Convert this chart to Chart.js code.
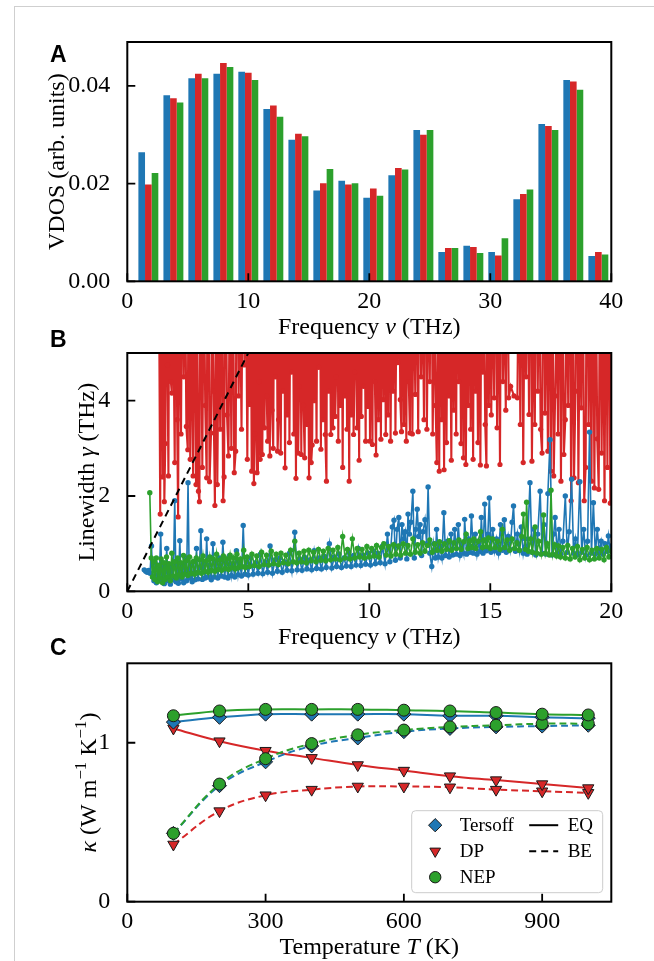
<!DOCTYPE html>
<html>
<head>
<meta charset="utf-8">
<script src="https://cdn.jsdelivr.net/npm/chart.js@4.4.1/dist/chart.umd.min.js"></script>
<style>
  html, body { margin: 0; padding: 0; background: #fff; }
  #page { position: relative; width: 654px; height: 961px; overflow: hidden; background: #fff; }
  #frame { position: absolute; left: 14px; top: 6px; right: -4px; bottom: -4px;
           border-left: 1px solid #cfcfcf; border-top: 1px solid #cfcfcf; }
  canvas { position: absolute; left: 0; top: 0; }
</style>
</head>
<body>
<div id="page">
  <div id="frame"></div>
  <canvas id="chartA" width="654" height="961"></canvas>
  <canvas id="chartB" width="654" height="961"></canvas>
  <canvas id="chartC" width="654" height="961"></canvas>
</div>
<script>
// ---------- Panel A: vibrational density of states (bin centres in THz) ----------
const vdosFreq = [1.74, 3.81, 5.87, 7.94, 10.00, 12.07, 14.14, 16.20, 18.27, 20.33,
                  22.40, 24.47, 26.53, 28.60, 30.66, 32.73, 34.80, 36.86, 38.93];
const vdosTersoff = [0.0264, 0.0381, 0.0416, 0.0425, 0.0429, 0.0353, 0.0290, 0.0186, 0.0206, 0.0171,
                     0.0217, 0.0310, 0.0060, 0.0073, 0.0060, 0.0168, 0.0322, 0.0412, 0.0052];
const vdosDP      = [0.0198, 0.0375, 0.0425, 0.0447, 0.0427, 0.0360, 0.0302, 0.0201, 0.0198, 0.0190,
                     0.0232, 0.0300, 0.0068, 0.0070, 0.0053, 0.0179, 0.0318, 0.0409, 0.0060];
const vdosNEP     = [0.0222, 0.0366, 0.0416, 0.0439, 0.0412, 0.0337, 0.0297, 0.0230, 0.0201, 0.0175,
                     0.0229, 0.0310, 0.0068, 0.0058, 0.0088, 0.0188, 0.0310, 0.0392, 0.0055];

// ---------- Panel B: phonon linewidths [frequency THz, linewidth THz] ----------
const dpLinewidth = [
  [1.30,7.5],[1.36,1.62],[1.40,9.0],[1.46,2.40],[1.50,8.0],[1.53,1.88],[1.57,3.10],[1.60,6.5],[1.66,4.75],[1.70,2.42],
  [1.74,8.5],[1.80,4.40],[1.84,4.16],[1.88,7.0],[1.96,2.70],[2.00,9.5],[2.06,3.60],[2.10,1.56],[2.14,6.8],[2.22,3.30],
  [2.27,8.2],[2.33,4.50],[2.38,7.4],[2.44,3.46],[2.50,2.97],[2.54,8.8],[2.60,2.77],[2.66,6.2],[2.72,2.42],[2.78,7.6],
  [2.84,2.24],[2.88,5.8],[2.94,2.10],[2.98,1.88],[3.02,8.4],[3.10,2.60],[3.16,7.1],[3.22,3.90],[3.28,2.38],[3.33,9.2],
  [3.40,2.30],[3.46,3.32],[3.50,6.6],[3.56,4.20],[3.62,1.80],[3.67,8.0],[3.72,2.24],[3.78,5.9],[3.84,3.40],[3.90,7.7],
  [3.96,1.90],[4.00,2.40],[4.05,8.6],[4.12,3.70],[4.18,2.84],[4.24,6.9],[4.30,3.00],[4.36,7.8],[4.42,2.49],[4.48,2.94],
  [4.53,9.1],[4.60,4.10],[4.66,6.3],[4.72,3.40],[4.78,8.3],[4.84,4.75],[4.90,7.2],[4.96,2.77],
  [5.00,6.1],[5.05,3.92],[5.09,8.9],[5.14,2.52],[5.18,7.3],[5.23,2.26],[5.27,3.30],[5.31,6.7],[5.36,2.49],[5.40,9.4],
  [5.45,4.40],[5.49,2.77],[5.53,7.9],[5.58,2.87],[5.62,6.4],[5.67,3.43],[5.71,8.1],[5.76,4.10],[5.80,3.15],[5.85,7.0],
  [5.89,2.84],[5.94,9.6],[5.98,3.80],[6.03,3.00],[6.07,6.9],[6.12,4.50],[6.16,8.4],[6.21,2.94],[6.25,3.60],[6.29,7.5],
  [6.34,2.90],[6.38,6.2],[6.43,4.20],[6.47,8.7],[6.52,2.59],[6.56,7.1],[6.61,3.70],[6.65,9.0],[6.70,3.12],[6.74,6.6],
  [6.79,4.60],[6.83,8.0],[6.88,3.30],[6.92,7.4],[6.97,2.37],[7.01,9.3],[7.06,2.90],[7.10,4.30],[7.15,6.8],[7.19,2.87],
  [7.24,8.5],[7.28,3.90],[7.33,2.80],[7.37,7.2],[7.42,3.50],[7.46,6.1],[7.51,2.38],[7.55,8.8],[7.60,2.70],[7.64,3.07],
  [7.69,7.7],[7.73,4.00],[7.78,6.4],[7.82,3.15],[7.87,9.2],[7.91,4.70],[7.96,7.0],[8.00,2.98],[8.05,8.3],[8.09,3.60],
  [8.14,6.7],[8.18,3.29],[8.23,2.31],[8.27,9.5],[8.32,4.20],[8.36,7.6],[8.41,3.29],[8.45,6.3],[8.50,3.43],[8.54,8.1],
  [8.59,3.67],[8.63,4.50],[8.68,7.3],[8.72,3.15],[8.77,9.0],[8.81,3.90],[8.86,6.5],[8.90,2.60],[8.95,8.6],[8.99,4.10],
  [9.04,7.1],[9.08,3.40],[9.13,6.0],[9.17,2.31],[9.22,8.9],[9.26,3.70],[9.31,7.4],[9.35,3.29],[9.40,4.60],[9.44,9.3],
  [9.49,3.43],[9.53,6.8],[9.58,2.75],[9.62,8.2],[9.67,3.67],[9.71,7.0],[9.76,4.30],[9.80,6.2],[9.85,3.15],[9.89,8.7],
  [9.94,3.88],[9.98,7.5],
  [10.03,3.15],[10.08,6.9],[10.13,3.08],[10.18,9.1],[10.23,4.40],[10.28,2.86],[10.33,7.8],[10.38,3.60],[10.43,6.4],[10.48,3.19],
  [10.53,8.5],[10.58,4.02],[10.63,7.2],[10.68,3.29],[10.73,5.9],[10.78,3.70],[10.83,9.4],[10.88,3.15],[10.93,7.0],[10.98,4.20],
  [11.03,8.3],[11.08,3.32],[11.13,6.6],[11.18,4.80],[11.23,7.7],[11.28,4.02],[11.33,3.35],[11.38,8.9],[11.43,3.50],[11.48,6.3],
  [11.53,3.15],[11.58,7.9],[11.63,4.40],[11.68,3.32],[11.73,9.2],[11.78,3.30],[11.83,6.8],[11.90,4.13],[11.96,7.4],[12.02,3.35],
  [12.08,8.1],[12.14,4.50],[12.20,6.5],[12.26,3.60],[12.32,9.0],[12.38,3.40],[12.44,7.1],[12.50,4.40],[12.56,8.6],[12.62,3.30],
  [12.68,6.2],[12.74,3.90],[12.79,2.70],[12.84,7.6],[12.89,2.52],[12.94,9.3],[12.99,3.60],[13.04,6.9],[13.09,2.55],[13.14,8.2],
  [13.19,3.12],[13.24,7.3],[13.29,4.10],[13.34,6.0],[13.39,2.75],[13.44,8.8],[13.49,3.80],[13.54,7.0],[13.59,3.30],[13.64,9.1],
  [13.69,4.40],[13.74,6.5],[13.79,3.10],[13.84,8.4],[13.89,2.80],[13.94,7.5],[13.99,2.66],[14.04,6.3],[14.09,3.90],[14.14,8.7],
  [14.19,3.40],[14.24,7.2],[14.29,2.77],[14.34,9.5],[14.39,4.20],[14.44,6.7],[14.49,3.12],[14.54,8.0],[14.59,2.65],[14.64,7.6],
  [14.69,4.60],[14.74,6.1],[14.79,3.50],[14.84,2.63],[14.89,8.9],[14.94,3.90],[14.99,7.4],
  [15.04,3.70],[15.10,6.8],[15.16,4.06],[15.22,8.3],[15.28,3.43],[15.34,7.0],[15.40,2.66],[15.46,9.2],[15.52,4.40],[15.58,6.4],
  [15.64,3.80],[15.70,8.1],[15.76,4.06],[15.84,4.30],[15.98,4.10],[16.12,4.06],[16.18,7.5],[16.24,3.50],[16.30,8.9],[16.36,2.70],
  [16.42,6.6],[16.48,4.50],[16.54,7.8],[16.60,3.71],[16.66,9.4],[16.72,2.73],[16.78,6.2],[16.84,3.50],[16.90,8.5],[16.96,4.20],
  [17.02,7.1],[17.08,3.40],[17.14,2.90],[17.20,9.0],[17.26,3.74],[17.32,6.9],[17.38,2.94],[17.44,8.2],[17.50,2.52],[17.56,7.3],
  [17.62,2.42],[17.68,4.10],[17.74,6.0],[17.80,3.30],[17.86,8.8],[17.92,2.31],[17.98,7.7],[18.04,2.87],[18.10,3.60],[18.16,6.5],
  [18.22,3.90],[18.28,9.3],[18.34,1.90],[18.40,7.2],[18.46,2.38],[18.52,4.20],[18.58,8.4],[18.64,2.28],[18.70,6.3],[18.76,3.85],
  [18.82,7.9],[18.88,1.90],[18.94,2.60],[19.00,9.1],[19.06,3.50],[19.12,6.7],[19.18,2.31],[19.24,8.6],[19.30,2.17],[19.36,7.0],
  [19.42,3.20],[19.48,2.14],[19.54,8.0],[19.60,2.90],[19.66,6.4],[19.72,1.90],[19.78,7.6],[19.84,2.60],[19.90,8.8],[19.96,1.85],
  [20.00,6.0]
];

const tersoffLinewidth = [
  [0.70,0.45],[0.76,0.42],[0.82,0.40],[0.88,0.44],[0.94,0.38],[1.00,0.95],[1.05,0.30],[1.10,0.22],[1.15,0.60],[1.20,0.18],
  [1.26,0.45],[1.32,0.25],[1.38,1.20],[1.43,0.20],[1.48,0.52],[1.53,0.16],[1.58,0.40],[1.63,0.90],[1.68,0.22],[1.73,0.48],
  [1.78,0.15],[1.84,0.55],[1.90,0.24],[1.96,1.90],[2.01,0.20],[2.06,0.60],[2.11,0.17],[2.17,1.06],[2.22,0.26],[2.28,0.50],
  [2.33,0.18],[2.39,0.70],[2.45,0.22],[2.51,2.28],[2.56,0.28],[2.62,0.55],[2.68,0.20],[2.74,0.62],[2.80,0.24],[2.86,0.90],
  [2.92,0.26],[2.98,0.50],[3.04,1.27],[3.10,0.25],[3.16,0.58],[3.22,0.28],[3.28,1.10],[3.34,0.30],[3.40,0.55],[3.47,0.24],
  [3.54,1.00],[3.60,0.30],[3.67,0.62],[3.74,0.28],[3.81,0.70],[3.88,0.32],[3.95,1.03],[4.02,0.30],[4.09,0.60],[4.16,0.28],
  [4.23,0.75],[4.30,0.33],[4.37,0.58],[4.44,0.30],[4.51,0.85],[4.58,0.35],[4.65,0.60],[4.72,0.32],[4.79,1.38],[4.86,0.36],
  [4.93,0.62],[5.00,0.34],
  [5.10,0.70],[5.20,0.36],[5.30,0.60],[5.40,0.38],[5.50,0.78],[5.60,0.37],[5.70,0.62],[5.80,0.40],[5.90,0.95],[6.00,0.38],
  [6.10,0.66],[6.20,0.42],[6.30,0.70],[6.40,0.40],[6.50,0.62],[6.60,0.44],[6.70,0.80],[6.80,0.43],[6.92,1.24],[7.02,0.45],
  [7.12,0.68],[7.22,0.44],[7.32,0.72],[7.42,0.47],[7.52,0.66],[7.62,0.45],[7.72,0.85],[7.82,0.48],[7.92,0.70],[8.02,0.47],
  [8.12,0.74],[8.22,0.50],[8.35,1.00],[8.45,0.49],[8.55,0.72],[8.65,0.52],[8.75,0.78],[8.85,0.50],[8.95,0.70],[9.05,0.53],
  [9.15,0.82],[9.25,0.52],[9.35,0.75],[9.45,0.55],[9.55,0.90],[9.65,0.54],[9.75,0.76],[9.85,0.57],[9.95,0.80],
  [10.05,0.55],[10.15,0.85],[10.25,0.58],[10.35,0.80],[10.45,0.60],[10.55,0.95],[10.65,0.58],[10.75,1.20],[10.85,0.62],[10.95,1.35],
  [11.02,1.49],[11.08,0.65],[11.15,1.30],[11.22,1.55],[11.28,0.70],[11.35,1.40],[11.42,1.10],[11.48,1.25],[11.55,0.68],[11.60,1.62],
  [11.66,1.20],[11.72,1.45],[11.80,2.10],[11.86,0.70],[11.92,1.30],[11.98,1.72],[12.04,1.15],[12.10,1.40],[12.16,0.75],[12.22,1.25],
  [12.30,1.50],[12.37,1.00],[12.43,2.19],[12.50,0.80],[12.58,0.52],[12.66,1.00],[12.73,0.70],[12.78,1.30],[12.85,0.72],[12.92,0.95],
  [13.00,0.70],[13.08,1.65],[13.15,0.75],[13.23,1.05],[13.30,0.72],[13.38,1.20],[13.45,0.76],[13.53,1.30],[13.60,0.78],[13.68,1.40],
  [13.75,0.75],[13.83,1.00],[13.90,0.80],[13.94,1.51],[14.02,0.78],[14.10,1.10],[14.16,0.82],[14.22,1.58],[14.30,0.80],[14.38,1.20],
  [14.45,0.78],[14.52,1.05],[14.58,0.84],[14.63,1.55],[14.70,0.80],[14.77,1.83],[14.84,0.85],[14.90,1.20],[14.96,1.96],[15.03,0.82],
  [15.10,1.30],[15.18,0.85],[15.26,1.10],[15.34,0.80],[15.42,1.40],[15.50,0.86],[15.58,1.50],[15.66,0.82],[15.74,1.15],[15.82,0.88],
  [15.90,1.45],[15.96,1.79],[16.04,0.84],[16.12,1.20],[16.20,0.86],[16.28,1.35],[16.36,0.80],[16.44,1.10],[16.52,0.78],[16.64,2.28],
  [16.72,0.82],[16.80,1.30],[16.88,0.76],[16.96,1.20],[17.06,2.10],[17.14,0.80],[17.22,1.40],[17.30,0.78],[17.38,2.05],[17.47,3.18],
  [17.55,0.76],[17.62,1.20],[17.68,1.55],[17.76,0.80],[17.84,1.30],[17.92,0.78],[18.00,1.05],[18.10,2.00],[18.18,0.82],[18.26,1.25],
  [18.36,2.35],[18.44,0.80],[18.52,1.10],[18.60,0.76],[18.70,2.30],[18.78,0.82],[18.86,1.30],[18.94,0.75],[19.02,1.05],[19.10,3.34],
  [19.18,0.80],[19.26,1.86],[19.34,0.78],[19.42,1.30],[19.50,0.82],[19.58,1.05],[19.66,0.78],[19.74,1.00],[19.82,0.84],[19.88,1.16],
  [19.95,0.86],[20.00,0.95]
];

const nepLinewidth = [
  [0.93,2.07],[0.99,0.70],[1.04,0.30],[1.09,0.62],[1.14,0.25],[1.20,0.70],[1.25,0.20],[1.30,0.55],[1.35,0.28],[1.40,0.68],
  [1.46,0.18],[1.51,0.60],[1.56,0.25],[1.62,0.72],[1.67,0.30],[1.72,0.58],[1.78,0.22],[1.84,0.80],[1.90,0.32],[1.96,0.62],
  [2.02,0.28],[2.08,0.70],[2.14,0.35],[2.20,0.60],[2.26,0.30],[2.32,0.75],[2.38,0.36],[2.44,0.64],[2.50,0.33],[2.57,0.72],
  [2.64,0.38],[2.71,0.62],[2.78,0.36],[2.85,0.70],[2.92,0.40],[2.99,0.66],[3.06,0.38],[3.13,0.74],[3.20,0.42],[3.27,0.64],
  [3.34,0.40],[3.41,0.72],[3.48,0.44],[3.55,0.68],[3.62,0.42],[3.69,0.78],[3.76,0.46],[3.83,0.66],[3.90,0.44],[3.97,0.74],
  [4.04,0.48],[4.11,0.68],[4.18,0.46],[4.25,0.76],[4.32,0.50],[4.39,0.70],[4.46,0.47],[4.53,0.78],[4.60,0.50],[4.67,0.68],
  [4.74,0.52],[4.81,0.86],[4.88,0.50],[4.95,0.72],
  [5.05,0.52],[5.15,0.78],[5.25,0.54],[5.35,0.74],[5.45,0.52],[5.55,0.82],[5.65,0.56],[5.75,0.76],[5.85,0.55],[5.95,0.84],
  [6.05,0.58],[6.15,0.78],[6.25,0.56],[6.35,0.80],[6.45,0.60],[6.55,0.76],[6.65,0.58],[6.75,0.86],[6.85,0.62],[6.92,1.05],
  [7.00,0.60],[7.10,0.80],[7.20,0.62],[7.30,0.84],[7.40,0.60],[7.50,0.86],[7.60,0.64],[7.70,0.82],[7.80,0.62],[7.90,0.88],
  [8.00,0.65],[8.10,0.84],[8.20,0.64],[8.30,0.90],[8.40,0.66],[8.50,0.86],[8.60,0.68],[8.70,0.92],[8.80,0.66],[8.90,1.15],
  [9.00,0.70],[9.10,0.88],[9.20,0.68],[9.30,1.10],[9.40,0.70],[9.50,0.90],[9.60,0.72],[9.70,0.88],[9.80,0.70],[9.90,0.94],
  [10.00,0.72],[10.10,0.90],[10.20,0.74],[10.30,0.96],[10.40,0.72],[10.50,0.92],[10.60,1.00],[10.70,0.76],[10.80,0.94],[10.90,0.74],
  [11.00,0.98],[11.10,0.78],[11.20,0.95],[11.30,0.76],[11.40,1.00],[11.50,0.80],[11.60,0.96],[11.70,0.78],[11.80,1.10],[11.90,0.82],
  [12.00,0.98],[12.10,0.80],[12.20,1.02],[12.30,0.84],[12.40,0.96],[12.50,1.08],[12.60,0.82],[12.70,1.00],[12.80,0.86],[12.90,1.04],
  [13.00,0.84],[13.10,1.00],[13.20,0.88],[13.30,1.06],[13.40,0.86],[13.50,1.02],[13.60,0.90],[13.70,1.08],[13.80,0.88],[13.90,1.04],
  [14.00,1.20],[14.08,0.90],[14.16,1.06],[14.24,0.92],[14.32,1.10],[14.40,0.90],[14.50,1.05],[14.60,1.25],[14.68,0.92],[14.76,1.08],
  [14.84,0.94],[14.92,1.12],[15.00,0.90],
  [15.10,1.10],[15.20,0.92],[15.30,1.05],[15.40,0.88],[15.50,1.30],[15.60,0.92],[15.70,1.08],[15.80,0.86],[15.90,1.10],[16.00,0.90],
  [16.10,1.02],[16.20,0.86],[16.30,1.15],[16.37,1.62],[16.45,0.88],[16.50,1.87],[16.58,0.84],[16.66,1.10],[16.74,0.82],[16.85,1.35],
  [16.92,0.80],[17.00,1.05],[17.10,0.78],[17.20,1.60],[17.28,0.80],[17.36,1.00],[17.44,0.76],[17.51,2.12],[17.58,0.78],[17.66,0.98],
  [17.74,0.74],[17.82,0.95],[17.90,0.72],[18.00,0.92],[18.10,0.70],[18.20,0.96],[18.30,0.68],[18.40,0.90],[18.50,0.72],[18.60,0.94],
  [18.70,0.66],[18.80,0.88],[18.90,0.70],[19.00,0.92],[19.10,0.66],[19.20,0.86],[19.30,0.68],[19.40,0.90],[19.50,0.70],[19.60,0.88],
  [19.70,0.66],[19.80,0.92],[19.90,0.72],[20.00,0.85]
];

// guide line gamma = nu
const guideLine = [[0, 0], [5, 5]];

// ---------- Panel C: thermal conductivity vs temperature ----------
const temperature = [100, 200, 300, 400, 500, 600, 700, 800, 900, 1000];
const tersoffEQ = [1.13, 1.16, 1.18, 1.18, 1.18, 1.18, 1.17, 1.17, 1.16, 1.155];
const tersoffBE = [0.43, 0.73, 0.88, 0.98, 1.03, 1.07, 1.09, 1.10, 1.105, 1.11];
const dpEQ      = [1.09, 1.01, 0.95, 0.905, 0.86, 0.825, 0.79, 0.765, 0.74, 0.715];
const dpBE      = [0.36, 0.57, 0.67, 0.705, 0.725, 0.725, 0.72, 0.705, 0.695, 0.685];
const nepEQ     = [1.17, 1.20, 1.21, 1.21, 1.21, 1.205, 1.20, 1.19, 1.18, 1.175];
const nepBE     = [0.43, 0.74, 0.90, 0.995, 1.05, 1.08, 1.10, 1.11, 1.12, 1.12];

// ---------- styling ----------
const SERIF = "'Liberation Serif', 'Times New Roman', serif";
const SANS = "'Liberation Sans', Arial, sans-serif";
const BLUE = '#1f77b4', RED = '#d62728', GREEN = '#2ca02c';
const FS = 24;
Chart.defaults.font.family = SERIF;
Chart.defaults.color = '#000';

// draws a label made of plain / italic / superscript pieces, centred on (cx, cy)
function drawRich(ctx, parts, cx, cy, size, vertical) {
  ctx.save();
  ctx.translate(cx, cy);
  if (vertical) ctx.rotate(-Math.PI / 2);
  let total = 0;
  const items = parts.map(p => {
    const fs = p.sup ? size * 0.7 : size;
    const font = (p.italic ? 'italic ' : '') + fs + 'px ' + SERIF;
    ctx.font = font;
    const w = ctx.measureText(p.text).width;
    total += w;
    return { p, font, w };
  });
  let x = -total / 2;
  const base = size * 0.24;
  ctx.fillStyle = '#000';
  ctx.textAlign = 'left';
  ctx.textBaseline = 'alphabetic';
  for (const it of items) {
    ctx.font = it.font;
    ctx.fillText(it.p.text, x, it.p.sup ? base - size * 0.42 : base);
    x += it.w;
  }
  ctx.restore();
}

function panelDecor(cfg) {
  return {
    id: 'panelDecor' + cfg.letter,
    afterDatasetsDraw(chart) {
      const { ctx, chartArea: a, scales } = chart;
      ctx.save();
      ctx.strokeStyle = '#000';
      ctx.lineWidth = 1.8;
      ctx.beginPath();
      for (const t of scales.x.ticks) {
        const px = scales.x.getPixelForValue(t.value);
        ctx.moveTo(px, a.bottom); ctx.lineTo(px, a.bottom - 8);
      }
      for (const t of scales.y.ticks) {
        const py = scales.y.getPixelForValue(t.value);
        ctx.moveTo(a.left, py); ctx.lineTo(a.left + 8, py);
      }
      ctx.stroke();
      ctx.lineWidth = 2;
      ctx.strokeRect(a.left, a.top, a.right - a.left, a.bottom - a.top);
      ctx.restore();
    },
    afterDraw(chart) {
      const { ctx, chartArea: a } = chart;
      drawRich(ctx, cfg.xTitle, (a.left + a.right) / 2, a.bottom + 47, FS, false);
      drawRich(ctx, cfg.yTitle, cfg.yTitleX, (a.top + a.bottom) / 2, FS, true);
      ctx.save();
      ctx.font = 'bold 23px ' + SANS;
      ctx.fillStyle = '#000';
      ctx.textAlign = 'left';
      ctx.textBaseline = 'alphabetic';
      ctx.fillText(cfg.letter, 50, cfg.letterY);
      ctx.restore();
      if (cfg.extra) cfg.extra(chart);
    }
  };
}

function tickFont() { return { family: SERIF, size: FS }; }

function xAxis(min, max, step) {
  return {
    type: 'linear', min, max, offset: false,
    grid: { display: false }, border: { display: false },
    ticks: { stepSize: step, includeBounds: false, color: '#000', font: tickFont(),
             padding: -2, maxRotation: 0, autoSkip: false },
    afterFit(scale) { scale.height = 60; }
  };
}
function yAxis(min, max, step, fmt) {
  return {
    type: 'linear', min, max,
    grid: { display: false }, border: { display: false },
    ticks: { stepSize: step, includeBounds: false, color: '#000', font: tickFont(),
             padding: 9, callback: fmt },
    afterFit(scale) { scale.width = 127.3; }
  };
}

const common = {
  responsive: false, animation: false, events: [], devicePixelRatio: 1,
  plugins: { legend: { display: false }, tooltip: { enabled: false } }
};

function pad(top, bottom) {
  return { padding: { left: 0, right: 654 - 611.3, top: top, bottom: 961 - bottom - 60 } };
}

// ---------- Panel A ----------
const barStyle = { categoryPercentage: 0.8, barPercentage: 1.0, borderWidth: 0 };
new Chart(document.getElementById('chartA'), {
  type: 'bar',
  data: {
    datasets: [
      Object.assign({ label: 'Tersoff', backgroundColor: BLUE,
        data: vdosFreq.map((f, i) => ({ x: f, y: vdosTersoff[i] })) }, barStyle),
      Object.assign({ label: 'DP', backgroundColor: RED,
        data: vdosFreq.map((f, i) => ({ x: f, y: vdosDP[i] })) }, barStyle),
      Object.assign({ label: 'NEP', backgroundColor: GREEN,
        data: vdosFreq.map((f, i) => ({ x: f, y: vdosNEP[i] })) }, barStyle)
    ]
  },
  options: Object.assign({}, common, {
    layout: pad(42, 281.3),
    scales: {
      x: xAxis(0, 40, 10),
      y: yAxis(0, 0.049, 0.02, v => Number(v).toFixed(2))
    }
  }),
  plugins: [panelDecor({
    letter: 'A', letterY: 62, yTitleX: 58,
    xTitle: [{ text: 'Frequency ' }, { text: 'ν', italic: true }, { text: ' (THz)' }],
    yTitle: [{ text: 'VDOS (arb. units)' }]
  })]
});

// ---------- Panel B ----------
function lwSet(label, pts, color, lineW, radius) {
  return {
    label, data: pts.map(p => ({ x: p[0], y: p[1] })),
    showLine: true, borderColor: color, backgroundColor: color,
    borderWidth: lineW, pointRadius: radius, pointBorderWidth: 0,
    pointBackgroundColor: color
  };
}
new Chart(document.getElementById('chartB'), {
  type: 'scatter',
  data: {
    datasets: [
      { label: 'guide', data: guideLine.map(p => ({ x: p[0], y: p[1] })), showLine: true,
        borderColor: '#000', borderWidth: 2, borderDash: [7, 5], pointRadius: 0 },
      lwSet('NEP', nepLinewidth, GREEN, 1.6, 2.7),
      lwSet('Tersoff', tersoffLinewidth, BLUE, 1.6, 2.7),
      lwSet('DP', dpLinewidth, RED, 2.1, 2.6)
    ]
  },
  options: Object.assign({}, common, {
    layout: pad(353, 591.3),
    scales: {
      x: xAxis(0, 20, 5),
      y: yAxis(0, 5, 2)
    }
  }),
  plugins: [panelDecor({
    letter: 'B', letterY: 347, yTitleX: 88,
    xTitle: [{ text: 'Frequency ' }, { text: 'ν', italic: true }, { text: ' (THz)' }],
    yTitle: [{ text: 'Linewidth ' }, { text: 'γ', italic: true }, { text: ' (THz)' }]
  })]
});

// ---------- Panel C ----------
const markerInfo = {
  Tersoff: { style: 'rectRot', radius: 7, rotation: 0, color: BLUE },
  DP: { style: 'triangle', radius: 6.5, rotation: 180, color: RED },
  NEP: { style: 'circle', radius: 6, rotation: 0, color: GREEN }
};
function kSet(model, values, dashed) {
  const m = markerInfo[model];
  return {
    label: model + (dashed ? ' BE' : ' EQ'),
    data: temperature.map((t, i) => ({ x: t, y: values[i] })),
    showLine: true, tension: 0.4,
    borderColor: m.color, borderWidth: 2, borderDash: dashed ? [7, 4] : [],
    pointStyle: m.style, pointRadius: m.radius, pointRotation: m.rotation,
    pointBackgroundColor: m.color, pointBorderColor: '#1a1a1a', pointBorderWidth: 1
  };
}
function drawKappaLegend(chart) {
  const { ctx, chartArea: a } = chart;
  const w = 191, h = 82;
  const x0 = a.right - 8.6 - w, y0 = a.bottom - 9 - h;
  ctx.save();
  ctx.beginPath();
  ctx.roundRect(x0, y0, w, h, 4);
  ctx.fillStyle = 'rgba(255,255,255,0.85)';
  ctx.fill();
  ctx.strokeStyle = '#cccccc';
  ctx.lineWidth = 1;
  ctx.stroke();
  const rows = ['Tersoff', 'DP', 'NEP'];
  ctx.font = '19px ' + SERIF;
  ctx.textBaseline = 'middle';
  ctx.textAlign = 'left';
  rows.forEach((name, i) => {
    const cy = y0 + 14.5 + i * 26;
    const m = markerInfo[name];
    ctx.fillStyle = m.color;
    ctx.strokeStyle = '#1a1a1a';
    ctx.lineWidth = 1;
    Chart.helpers.drawPoint(ctx, { pointStyle: m.style, radius: m.radius * 0.95, rotation: m.rotation, borderWidth: 1 }, x0 + 23.5, cy);
    ctx.fillStyle = '#000';
    ctx.fillText(name, x0 + 48, cy + 1);
  });
  [['EQ', []], ['BE', [7, 5]]].forEach((r, i) => {
    const cy = y0 + 14.5 + i * 26;
    ctx.strokeStyle = '#000';
    ctx.lineWidth = 2;
    ctx.setLineDash(r[1]);
    ctx.beginPath();
    ctx.moveTo(x0 + 117.5, cy); ctx.lineTo(x0 + 146.5, cy);
    ctx.stroke();
    ctx.setLineDash([]);
    ctx.fillStyle = '#000';
    ctx.fillText(r[0], x0 + 156, cy + 1);
  });
  ctx.restore();
}
new Chart(document.getElementById('chartC'), {
  type: 'scatter',
  data: {
    datasets: [
      kSet('NEP', nepEQ, false),
      kSet('NEP', nepBE, true),
      kSet('Tersoff', tersoffEQ, false),
      kSet('Tersoff', tersoffBE, true),
      kSet('DP', dpEQ, false),
      kSet('DP', dpBE, true)
    ]
  },
  options: Object.assign({}, common, {
    layout: pad(663.3, 901.7),
    scales: {
      x: xAxis(0, 1050, 300),
      y: yAxis(0, 1.5, 1)
    }
  }),
  plugins: [panelDecor({
    letter: 'C', letterY: 655, yTitleX: 90,
    xTitle: [{ text: 'Temperature ' }, { text: 'T', italic: true }, { text: ' (K)' }],
    yTitle: [{ text: 'κ', italic: true }, { text: ' (W m' }, { text: '−1', sup: true },
             { text: ' K' }, { text: '−1', sup: true }, { text: ')' }],
    extra: drawKappaLegend
  })]
});
</script>
</body>
</html>
